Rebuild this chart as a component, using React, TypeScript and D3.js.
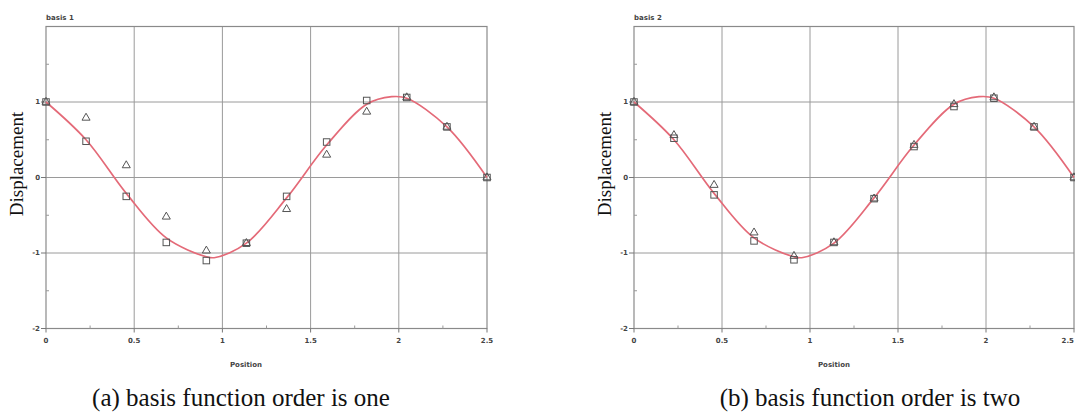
import React, { useEffect, useRef } from "react";
import * as d3 from "d3";

// node positions of the markers
const positions = [0, 0.227, 0.455, 0.682, 0.909, 1.136, 1.364, 1.591, 1.818, 2.045, 2.273, 2.5];

// red reference curve
const curveX = [0, 0.227, 0.455, 0.682, 0.909, 0.96, 1.136, 1.364, 1.591, 1.818, 1.96, 2.045, 2.273, 2.5];
const curveY = [1.0, 0.5, -0.21, -0.8, -1.05, -1.06, -0.87, -0.27, 0.43, 0.97, 1.07, 1.05, 0.67, 0.0];

// panel (a)
const squaresA = [1.0, 0.48, -0.25, -0.86, -1.1, -0.87, -0.25, 0.47, 1.02, 1.06, 0.67, 0.0];
const trianglesA = [1.0, 0.79, 0.16, -0.52, -0.97, -0.87, -0.42, 0.3, 0.87, 1.06, 0.67, 0.0];

// panel (b)
const squaresB = [1.0, 0.52, -0.23, -0.84, -1.09, -0.86, -0.28, 0.41, 0.94, 1.05, 0.67, 0.0];
const trianglesB = [1.0, 0.56, -0.1, -0.73, -1.04, -0.86, -0.28, 0.43, 0.97, 1.06, 0.67, 0.0];

const xTicks = [0, 0.5, 1, 1.5, 2, 2.5];
const xTickLabels = ["0", "0.5", "1", "1.5", "2", "2.5"];
const yTicks = [-2, -1, 0, 1];
const yTickLabels = ["-2", "-1", "0", "1"];
const xMinor = [0.25, 0.75, 1.25, 1.75, 2.25];
const yMinor = [-1.5, -0.5, 0.5, 1.5];

const panels = [
  { left: 46, right: 487, title: "basis 1", caption: "(a) basis function order is one", captionX: 241, squares: squaresA, triangles: trianglesA },
  { left: 634, right: 1074, title: "basis 2", caption: "(b) basis function order is two", captionX: 870, squares: squaresB, triangles: trianglesB },
];

const W = 1075;
const H = 413;
const top = 26.5;
const bottom = 328.5;

export default function App() {
  const ref = useRef<SVGSVGElement>(null);

  useEffect(() => {
    const svg = d3.select(ref.current);
    svg.selectAll("*").remove();

    const gridColor = "#9a9a9a";
    const tickFont = "DejaVu Sans, sans-serif";

    panels.forEach((p) => {
      const x = d3.scaleLinear().domain([0, 2.5]).range([p.left, p.right]);
      const y = d3.scaleLinear().domain([-2, 2]).range([bottom, top]);
      const g = svg.append("g");

      // grid
      xTicks.slice(1, -1).forEach((t) => {
        g.append("line")
          .attr("x1", x(t)).attr("x2", x(t))
          .attr("y1", top).attr("y2", bottom)
          .attr("stroke", gridColor).attr("stroke-width", 1);
      });
      yTicks.slice(1).forEach((t) => {
        g.append("line")
          .attr("x1", p.left).attr("x2", p.right)
          .attr("y1", y(t)).attr("y2", y(t))
          .attr("stroke", gridColor).attr("stroke-width", 1);
      });

      // frame
      g.append("rect")
        .attr("x", p.left).attr("y", top)
        .attr("width", p.right - p.left).attr("height", bottom - top)
        .attr("fill", "none").attr("stroke", "#8a8a8a").attr("stroke-width", 1.2);

      // major ticks (outward) and minor ticks (inward)
      yTicks.forEach((t) => {
        g.append("line").attr("x1", p.left - 5).attr("x2", p.left)
          .attr("y1", y(t)).attr("y2", y(t)).attr("stroke", "#777");
      });
      xTicks.forEach((t) => {
        g.append("line").attr("x1", x(t)).attr("x2", x(t))
          .attr("y1", bottom).attr("y2", bottom + 4).attr("stroke", "#777");
      });
      yMinor.forEach((t) => {
        g.append("line").attr("x1", p.left).attr("x2", p.left + 3)
          .attr("y1", y(t)).attr("y2", y(t)).attr("stroke", "#999");
      });
      xMinor.forEach((t) => {
        g.append("line").attr("x1", x(t)).attr("x2", x(t))
          .attr("y1", bottom).attr("y2", bottom - 3).attr("stroke", "#999");
      });

      // tick labels
      yTicks.forEach((t, i) => {
        g.append("text")
          .attr("x", p.left - 6).attr("y", y(t))
          .attr("dy", "0.35em").attr("text-anchor", "end")
          .style("font-family", tickFont).style("font-size", "7px")
          .style("font-weight", "bold").attr("fill", "#444")
          .text(yTickLabels[i]);
      });
      xTicks.forEach((t, i) => {
        // keep the last label inside the page
        const overflow = x(t) + 6 > W;
        g.append("text")
          .attr("x", overflow ? W - 1 : x(t)).attr("y", bottom + 14)
          .attr("text-anchor", overflow ? "end" : "middle")
          .style("font-family", tickFont).style("font-size", "7px")
          .style("font-weight", "bold").attr("fill", "#444")
          .text(xTickLabels[i]);
      });

      // title
      g.append("text")
        .attr("x", p.left).attr("y", 20)
        .style("font-family", tickFont).style("font-size", "7px")
        .style("font-weight", "bold").attr("fill", "#444")
        .text(p.title);

      // axis labels
      g.append("text")
        .attr("x", p.left + 200).attr("y", 367)
        .attr("text-anchor", "middle")
        .style("font-family", tickFont).style("font-size", "7px")
        .style("font-weight", "bold").attr("fill", "#444")
        .text("Position");

      g.append("text")
        .attr("transform", `translate(${p.left - 23},164) rotate(-90)`)
        .attr("text-anchor", "middle")
        .style("font-family", "Liberation Serif, serif").style("font-size", "19px")
        .attr("fill", "#111")
        .text("Displacement");

      // caption
      svg.append("text")
        .attr("x", p.captionX).attr("y", 406)
        .attr("text-anchor", "middle")
        .style("font-family", "Liberation Serif, serif").style("font-size", "25px")
        .attr("fill", "#111")
        .text(p.caption);

      // red curve
      const line = d3.line<number>()
        .x((d, i) => x(curveX[i]))
        .y((d) => y(d))
        .curve(d3.curveCatmullRom.alpha(0.5));
      g.append("path")
        .datum(curveY)
        .attr("d", line)
        .attr("fill", "none")
        .attr("stroke", "#e46a78")
        .attr("stroke-width", 1.7);

      // squares
      const s = 6.5;
      g.append("g").selectAll("rect")
        .data(p.squares)
        .join("rect")
        .attr("x", (d, i) => x(positions[i]) - s / 2)
        .attr("y", (d) => y(d) - s / 2)
        .attr("width", s).attr("height", s)
        .attr("fill", "none").attr("stroke", "#555").attr("stroke-width", 1);

      // triangles
      const tri = d3.symbol().type(d3.symbolTriangle).size(28);
      g.append("g").selectAll("path")
        .data(p.triangles)
        .join("path")
        .attr("transform", (d, i) => `translate(${x(positions[i])},${y(d)})`)
        .attr("d", tri)
        .attr("fill", "none").attr("stroke", "#555").attr("stroke-width", 1);
    });
  }, []);

  return (
    <svg
      ref={ref}
      width={W}
      height={H}
      style={{ position: "absolute", left: 0, top: 0, background: "white" }}
    />
  );
}
